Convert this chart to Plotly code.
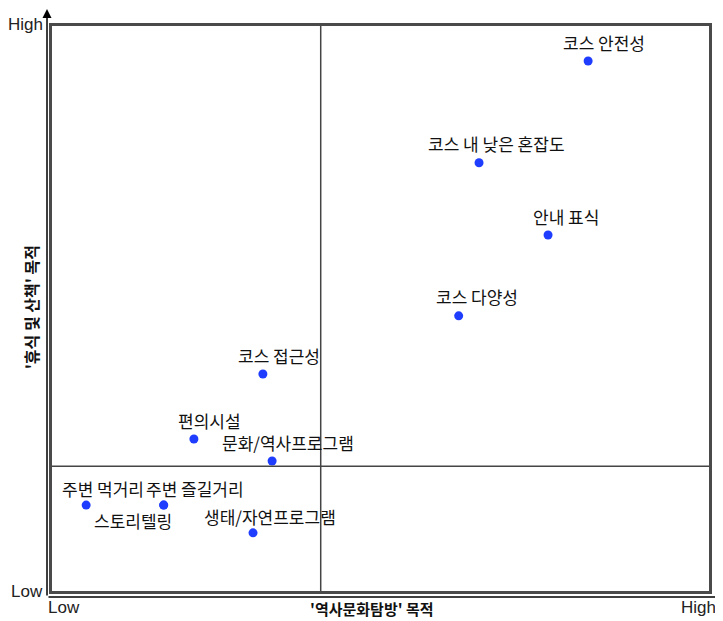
import plotly.graph_objects as go

# ---- data (arbitrary 0-100 importance scale) ----
items = ["코스 안전성", "코스 내 낮은 혼잡도", "안내 표식", "코스 다양성", "코스 접근성",
         "편의시설", "문화/역사프로그램", "주변 먹거리", "주변 즐길거리", "스토리텔링",
         "생태/자연프로그램"]
history_purpose = [81.6, 65.0, 75.5, 61.9, 32.1, 21.6, 33.5, 5.2, 17.0, 17.0, 30.6]
rest_purpose = [93.8, 75.8, 63.0, 48.7, 38.4, 26.9, 23.0, 15.2, 15.2, 15.2, 10.3]
x_mid = 40.9
y_mid = 22.1
x_title = "'역사문화탐방' 목적"
y_title = "'휴식 및 산책' 목적"
tick_low = "Low"
tick_high = "High"

# label offsets (pixels) – styling only
label_dx = [16, 17, 18, 18, 16, 16, 16, 17, 31, -31, 17]
label_dy = [19, 19, 19, 19, 19, 19, 19, 17, 17, -15, 16]

KFONT = "Noto Sans CJK KR"
W, H = 715, 613  # page body has an 8px margin
fig = go.Figure()
fig.add_trace(go.Scatter(x=history_purpose, y=rest_purpose, mode="markers",
                         marker=dict(color="#1f3dff", size=9),
                         hoverinfo="text", text=items, showlegend=False))

ann = []
for name, x, y, dx, dy in zip(items, history_purpose, rest_purpose, label_dx, label_dy):
    ann.append(dict(x=x, y=y, xref="x", yref="y", text=name, showarrow=False,
                    xshift=dx, yshift=dy, font=dict(family=KFONT, size=17, color="#111")))

LFONT = dict(family="Liberation Sans, Arial", size=17, color="#222")
ann += [
    dict(x=-0.011, y=1.0, xref="paper", yref="paper", text=tick_high, showarrow=False,
         xanchor="right", yanchor="middle", yshift=2, font=LFONT),
    dict(x=-0.011, y=0.0, xref="paper", yref="paper", text=tick_low, showarrow=False,
         xanchor="right", yanchor="middle", font=LFONT),
    dict(x=-0.009, y=-0.008, xref="paper", yref="paper", text=tick_low, showarrow=False,
         xanchor="left", yanchor="top", font=LFONT),
    dict(x=1.014, y=-0.008, xref="paper", yref="paper", text=tick_high, showarrow=False,
         xanchor="right", yanchor="top", font=LFONT),
    dict(x=0.5, y=-0.008, xref="paper", yref="paper", text="<b>" + x_title + "</b>",
         xshift=-9, showarrow=False, xanchor="center", yanchor="top",
         font=dict(family=KFONT, size=15, color="#111")),
    dict(x=-0.032, y=0.502, xref="paper", yref="paper", text="<b>" + y_title + "</b>",
         showarrow=False, textangle=-90, xanchor="center", yanchor="middle",
         font=dict(family=KFONT, size=16, color="#111")),
    # arrows of the outer axes
    dict(x=-0.0076, y=1.032, xref="paper", yref="paper", ax=0, ay=589, text="",
         showarrow=True, arrowhead=2, arrowsize=1.2, arrowwidth=1.5, arrowcolor="#000"),
    dict(x=1.0167, y=-0.0106, xref="paper", yref="paper", ax=-673, ay=0, text="",
         showarrow=True, arrowhead=6, arrowsize=1.2, arrowwidth=1.5, arrowcolor="#000"),
]

shapes = [
    dict(type="line", xref="x", yref="paper", x0=x_mid, x1=x_mid, y0=0, y1=1,
         line=dict(color="#444", width=1.5)),
    dict(type="line", xref="paper", yref="y", x0=0, x1=1, y0=y_mid, y1=y_mid,
         line=dict(color="#444", width=1.5)),
]

fig.update_layout(
    width=W, height=H,
    margin=dict(l=44, r=14, t=18, b=30),
    plot_bgcolor="white", paper_bgcolor="white",
    xaxis=dict(range=[0, 100], showgrid=False, zeroline=False, showticklabels=False,
               ticks="", showline=True, mirror=True, linecolor="#4a4a4a", linewidth=2.5),
    yaxis=dict(range=[0, 100], showgrid=False, zeroline=False, showticklabels=False,
               ticks="", showline=True, mirror=True, linecolor="#4a4a4a", linewidth=2.5),
    annotations=ann, shapes=shapes,
)

fig.write_html("out.html")
